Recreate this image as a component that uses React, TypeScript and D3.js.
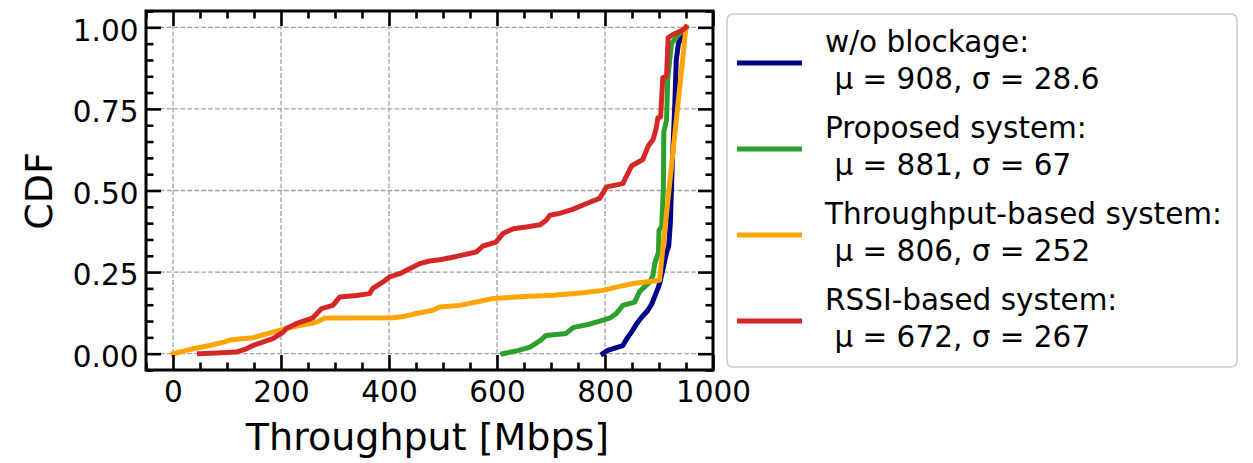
import React, { useRef, useEffect } from 'react';
import * as d3 from 'd3';

// CDF curves: [throughput Mbps, cdf]
const noBlockage: [number, number][] = [
  [796, 0], [805, 0.01], [833, 0.025], [840, 0.045], [849, 0.066], [858, 0.09], [867, 0.11],
  [878, 0.13], [886, 0.15], [892, 0.175], [898, 0.2], [902, 0.22], [906, 0.25], [910, 0.28],
  [914, 0.31], [918, 0.33], [921, 0.4], [923, 0.5], [925, 0.6], [929, 0.75], [932, 0.9],
  [936, 0.95], [950, 1.0],
];

const proposed: [number, number][] = [
  [611, 0], [640, 0.01], [661, 0.02], [680, 0.04], [691, 0.056], [728, 0.062], [741, 0.08],
  [770, 0.09], [790, 0.1], [810, 0.11], [821, 0.123], [833, 0.148], [855, 0.158], [864, 0.19],
  [883, 0.22], [889, 0.24], [892, 0.276], [899, 0.31], [900, 0.378], [905, 0.39], [908, 0.5],
  [909, 0.68], [914, 0.716], [916, 0.84], [923, 0.95], [935, 0.975], [950, 1.0],
];

const throughputBased: [number, number][] = [
  [0, 0], [20, 0.008], [37, 0.015], [68, 0.025], [96, 0.036], [105, 0.042], [148, 0.049],
  [185, 0.066], [200, 0.073], [222, 0.082], [259, 0.094], [270, 0.1], [281, 0.109], [407, 0.11],
  [430, 0.115], [451, 0.123], [481, 0.133], [494, 0.143], [531, 0.148], [593, 0.169], [650, 0.175],
  [704, 0.179], [760, 0.187], [796, 0.194], [821, 0.204], [852, 0.215], [901, 0.225], [950, 1.0],
];

const rssiBased: [number, number][] = [
  [49, 0], [80, 0.002], [117, 0.005], [136, 0.015], [148, 0.025], [170, 0.038], [185, 0.046],
  [204, 0.066], [210, 0.077], [228, 0.092], [259, 0.11], [275, 0.138], [296, 0.148], [309, 0.174],
  [340, 0.178], [364, 0.184], [370, 0.2], [389, 0.22], [401, 0.235], [420, 0.245], [438, 0.26],
  [457, 0.276], [475, 0.284], [494, 0.288], [525, 0.298], [549, 0.307], [562, 0.312], [574, 0.33],
  [598, 0.342], [611, 0.368], [630, 0.383], [654, 0.388], [680, 0.395], [691, 0.409], [698, 0.424],
  [716, 0.43], [740, 0.442], [766, 0.46], [790, 0.476], [803, 0.511], [833, 0.521], [840, 0.545],
  [849, 0.575], [870, 0.595], [880, 0.636], [889, 0.656], [895, 0.692], [898, 0.723], [903, 0.725],
  [907, 0.846], [914, 0.85], [917, 0.968], [926, 0.978], [941, 0.989], [950, 1.0],
];

const seriesNames = ['w/o blockage:', 'Proposed system:', 'Throughput-based system:', 'RSSI-based system:'];
const seriesStats = [' μ = 908, σ = 28.6', ' μ = 881, σ = 67', ' μ = 806, σ = 252', ' μ = 672, σ = 267'];
const seriesColors = ['#00008b', '#2ca02c', '#ffa500', '#d62728'];
const seriesData = [noBlockage, proposed, throughputBased, rssiBased];

const xTicks = [0, 200, 400, 600, 800, 1000];
const yTicks = [0, 0.25, 0.5, 0.75, 1.0];

const FONT = 'DejaVu Sans, sans-serif';

const CdfChart = ({ width, height }: { width: number; height: number }) => {
  const svgRef = useRef<SVGSVGElement>(null);

  useEffect(() => {
    const svg = d3.select(svgRef.current);
    svg.selectAll('*').remove();

    const left = 146, right = 713, top = 11, bottom = 370;
    const x = d3.scaleLinear().domain([-50, 1000]).range([left, right]);
    const y = d3.scaleLinear().domain([-0.05, 1.05]).range([bottom, top]);

    const xMinor = d3.range(-50, 1001, 50).filter(v => !xTicks.includes(v));
    const yMinor = d3.range(-5, 106, 5).map(v => v / 100).filter(v => !yTicks.some(t => Math.abs(t - v) < 1e-9));

    svg.append('rect').attr('width', width).attr('height', height).attr('fill', 'white');

    // grid
    const grid = svg.append('g').attr('stroke', '#a0a0a0').attr('stroke-width', 1.3).attr('stroke-dasharray', '4.8,2.1');
    xTicks.forEach(v => grid.append('line').attr('x1', x(v)).attr('x2', x(v)).attr('y1', top).attr('y2', bottom));
    yTicks.forEach(v => grid.append('line').attr('x1', left).attr('x2', right).attr('y1', y(v)).attr('y2', y(v)));

    // curves
    const line = d3.line<[number, number]>().x(d => x(d[0])).y(d => y(d[1]));
    const plot = svg.append('g');
    seriesData.forEach((data, i) => {
      plot.append('path')
        .attr('d', line(data))
        .attr('fill', 'none')
        .attr('stroke', seriesColors[i])
        .attr('stroke-width', 5)
        .attr('stroke-linejoin', 'round')
        .attr('stroke-linecap', 'square');
    });

    // ticks on all four sides, pointing inward
    const styleAxis = (g: any) => {
      g.select('.domain').remove();
      g.selectAll('.tick line').attr('stroke', 'black').attr('stroke-width', 2.6);
      g.selectAll('.tick text').attr('font-family', FONT).attr('font-size', 29.5).attr('fill', 'black');
    };

    svg.append('g').attr('transform', `translate(0,${bottom})`)
      .call(d3.axisBottom(x).tickValues(xTicks).tickSize(-15).tickPadding(11).tickFormat(d3.format('d')))
      .call(styleAxis);
    svg.append('g').attr('transform', `translate(0,${bottom})`)
      .call(d3.axisBottom(x).tickValues(xMinor).tickSize(-7.5).tickFormat(() => ''))
      .call(styleAxis);
    svg.append('g').attr('transform', `translate(0,${top})`)
      .call(d3.axisTop(x).tickValues(xTicks).tickSize(-15).tickFormat(() => ''))
      .call(styleAxis);
    svg.append('g').attr('transform', `translate(0,${top})`)
      .call(d3.axisTop(x).tickValues(xMinor).tickSize(-7.5).tickFormat(() => ''))
      .call(styleAxis);

    const yAxis = svg.append('g').attr('transform', `translate(${left},0)`)
      .call(d3.axisLeft(y).tickValues(yTicks).tickSize(-15).tickPadding(7.5).tickFormat(d3.format('.2f')))
      .call(styleAxis);
    yAxis.selectAll('.tick text').attr('dy', '0.43em');
    svg.append('g').attr('transform', `translate(${left},0)`)
      .call(d3.axisLeft(y).tickValues(yMinor).tickSize(-7.5).tickFormat(() => ''))
      .call(styleAxis);
    svg.append('g').attr('transform', `translate(${right},0)`)
      .call(d3.axisRight(y).tickValues(yTicks).tickSize(-15).tickFormat(() => ''))
      .call(styleAxis);
    svg.append('g').attr('transform', `translate(${right},0)`)
      .call(d3.axisRight(y).tickValues(yMinor).tickSize(-7.5).tickFormat(() => ''))
      .call(styleAxis);

    // frame
    svg.append('rect')
      .attr('x', left).attr('y', top).attr('width', right - left).attr('height', bottom - top)
      .attr('fill', 'none').attr('stroke', 'black').attr('stroke-width', 3);

    // axis labels
    svg.append('text')
      .attr('x', (left + right) / 2 - 2).attr('y', 450)
      .attr('text-anchor', 'middle').attr('font-family', FONT).attr('font-size', 38)
      .text('Throughput [Mbps]');
    svg.append('text')
      .attr('transform', `translate(52,191) rotate(-90)`)
      .attr('text-anchor', 'middle').attr('font-family', FONT).attr('font-size', 38)
      .text('CDF');

    // legend
    const legend = svg.append('g');
    legend.append('rect')
      .attr('x', 727).attr('y', 14).attr('width', 510).attr('height', 353).attr('rx', 6)
      .attr('fill', 'white').attr('fill-opacity', 0.8).attr('stroke', '#cccccc').attr('stroke-width', 1.6);
    seriesNames.forEach((name, i) => {
      const base = 52 + i * 86;
      legend.append('line')
        .attr('x1', 737).attr('x2', 802).attr('y1', base + 11).attr('y2', base + 11)
        .attr('stroke', seriesColors[i]).attr('stroke-width', 5);
      const t = legend.append('text')
        .attr('font-family', FONT).attr('font-size', 29.5).attr('fill', 'black')
        .style('white-space', 'pre');
      t.append('tspan').attr('x', 825).attr('y', base).text(name);
      t.append('tspan').attr('x', 825).attr('y', base + 37).text(seriesStats[i]);
    });
  }, [width, height]);

  return <svg ref={svgRef} width={width} height={height} style={{ position: 'absolute', left: 0, top: 0 }}></svg>;
};

export default function App() {
  return <CdfChart width={1253} height={463} />;
}
